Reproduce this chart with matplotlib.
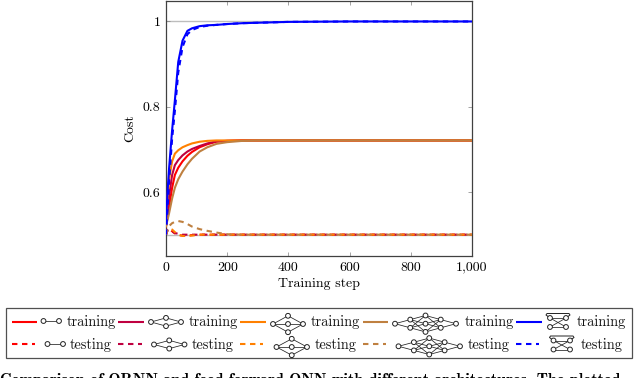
import matplotlib
matplotlib.use("Agg")
import matplotlib.pyplot as plt
from matplotlib.patches import Circle, Rectangle

plt.rcParams['font.family'] = ['cmr10', 'DejaVu Serif']
plt.rcParams['axes.formatter.use_mathtext'] = True
plt.rcParams['axes.unicode_minus'] = False

RED = '#ff0000'; PURPLE = '#bf0040'; ORANGE = '#ff8000'; BROWN = '#bf8040'; BLUE = '#0000ff'

steps = [0, 5, 10, 20, 29, 40, 54, 70, 85, 110, 135, 165, 200, 250, 300, 400, 600, 800, 1000]
train_red    = [.52, .540, .565, .610, .640, .657, .672, .685, .694, .705, .712, .718, .720, .721, .721, .721, .721, .721, .721]
train_purple = [.52, .555, .590, .640, .663, .675, .686, .695, .701, .708, .714, .719, .720, .721, .721, .721, .721, .721, .721]
train_orange = [.52, .590, .630, .672, .690, .698, .705, .710, .714, .718, .720, .721, .721, .721, .721, .721, .721, .721, .721]
train_brown  = [.52, .535, .550, .585, .610, .630, .648, .665, .678, .695, .705, .713, .717, .720, .721, .721, .721, .721, .721]
train_blue   = [.53, .60, .655, .745, .815, .905, .955, .978, .984, .989, .991, .992, .994, .996, .997, .999, 1.0, 1.0, 1.0]
test_red     = [.50, .512, .514, .508, .503, .499, .498, .498, .499, .500, .500, .500, .500, .500, .500, .500, .500, .500, .500]
test_purple  = [.50, .510, .511, .507, .504, .502, .500, .500, .500, .500, .500, .500, .500, .500, .500, .500, .500, .500, .500]
test_orange  = [.50, .512, .515, .512, .506, .500, .497, .497, .498, .500, .500, .500, .500, .500, .500, .500, .500, .500, .500]
test_brown   = [.50, .512, .520, .527, .530, .532, .530, .525, .519, .513, .509, .505, .501, .500, .500, .500, .500, .500, .500]
test_blue    = [.50, .56, .625, .725, .790, .880, .940, .970, .980, .987, .990, .992, .994, .996, .997, .999, 1.0, 1.0, 1.0]

xticks = [0, 200, 400, 600, 800, 1000]
xticklabels = ['0', '200', '400', '600', '800', '1,000']
yticks = [0.6, 0.8, 1.0]
yticklabels = ['0.6', '0.8', '1']
reference_levels = [1.0, 0.5]
train_label = 'training'
test_label = 'testing'
caption = 'Comparison of ORNN and feed-forward ONN with different architectures. The plotted'

W, H = 640, 378
fig = plt.figure(figsize=(W/100, H/100), dpi=100)
ax = fig.add_axes([166/W, 1-256/H, 306/W, 255/H])
for lv in reference_levels:
    ax.axhline(lv, color='#bdbdbd', lw=1.0, zorder=1)
series = [(train_red, RED), (train_purple, PURPLE), (train_orange, ORANGE), (train_brown, BROWN), (train_blue, BLUE)]
tests = [(test_red, RED), (test_purple, PURPLE), (test_orange, ORANGE), (test_brown, BROWN), (test_blue, BLUE)]
for vals, c in series:
    ax.plot(steps, vals, color=c, lw=1.5, zorder=3)
for vals, c in tests:
    ax.plot(steps, vals, color=c, lw=1.5, ls=(0, (2.6, 2.2)), zorder=4)
ax.set_xlim(0, 1000)
ax.set_ylim(0.45, 1.048)
ax.set_xticks(xticks, xticklabels)
ax.set_yticks(yticks, yticklabels)
ax.tick_params(direction='in', length=3, width=0.5, color='#808080', labelsize=10, top=True, right=True, pad=4)
for s in ax.spines.values():
    s.set_linewidth(0.9); s.set_color('#404040')
ax.set_xlabel('Training step', fontsize=10, labelpad=3)
ax.set_ylabel('Cost', fontsize=10, labelpad=5)

# overlay in pixel units for legend box and network pictograms
ov = fig.add_axes([0, 0, 1, 1], facecolor='none')
ov.set_xlim(0, W); ov.set_ylim(H, 0); ov.axis('off')
ov.add_patch(Rectangle((6, 307.5), 626, 50.5, fill=False, ec='#505050', lw=0.9))

EDGE = '#222222'

def node(x, y, r=2.4):
    ov.add_patch(Circle((x, y), r, fc='white', ec=EDGE, lw=0.7, zorder=6))

def net(x0, x1, yc, layers, dy=8.2):
    n = len(layers)
    pos = []
    for i, k in enumerate(layers):
        x = x0 + (x1 - x0) * i / (n - 1)
        pos.append([(x, yc + (j - (k - 1) / 2) * dy) for j in range(k)])
    for a, b in zip(pos[:-1], pos[1:]):
        for p in a:
            for q in b:
                ov.plot([p[0], q[0]], [p[1], q[1]], color=EDGE, lw=0.55, zorder=5)
    for layer in pos:
        for x, y in layer:
            node(x, y)

def ring(x0, x1, yc):
    yt, yb = yc - 4.5, yc + 4.5
    for p, q in [((x0, yt), (x1, yt)), ((x0, yb), (x1, yb)), ((x0, yt), (x1, yb)), ((x0, yb), (x1, yt))]:
        ov.plot([p[0], q[0]], [p[1], q[1]], color=EDGE, lw=0.55, zorder=5)
    ov.plot([x0, x0 - 4, x0 - 3, x1 + 3, x1 + 4, x1], [yt, yt - 3, yt - 4.5, yt - 4.5, yt - 3, yt], color=EDGE, lw=0.7, zorder=5)
    for x in (x0, x1):
        for y in (yt, yb):
            node(x, y)

colors = [RED, PURPLE, ORANGE, BROWN, BLUE]
row1 = [(12, 37), (118, 144), (240, 266), (363, 388), (516, 542)]
row2 = [(12, 35), (118, 142), (240, 263), (363, 386), (516, 539)]
text1 = [67, 189, 311, 465, 577]
text2 = [70, 192, 315, 468, 581]
for c, (a, b) in zip(colors, row1):
    ov.plot([a, b], [322, 322], color=c, lw=1.5, solid_capstyle='butt')
for c, (a, b) in zip(colors, row2):
    ov.plot([a, b], [344, 344], color=c, lw=1.5, ls=(0, (2.6, 2.2)))
for x in text1:
    ov.text(x, 326, train_label, fontsize=10.3, va='baseline', ha='left', color='#111111')
for x in text2:
    ov.text(x, 348.5, test_label, fontsize=10.3, va='baseline', ha='left', color='#111111')

net(43.5, 59, 321, [1, 1])
net(47.5, 63, 344, [1, 1])
net(151, 181, 322, [1, 2, 1])
net(154, 184.5, 344.5, [1, 2, 1])
net(273, 303, 324, [1, 3, 1])
net(276.5, 307, 347, [1, 3, 1])
net(395, 456, 323.7, [1, 2, 3, 2, 1])
net(398.5, 460, 346.3, [1, 2, 3, 2, 1])
ring(550, 566, 322.5)
ring(553.5, 570, 345)

ov.text(0, 384, caption, fontsize=11.6, family=['cmb10'], va='baseline', ha='left', clip_on=False)
fig.savefig('out.png', dpi=100)
